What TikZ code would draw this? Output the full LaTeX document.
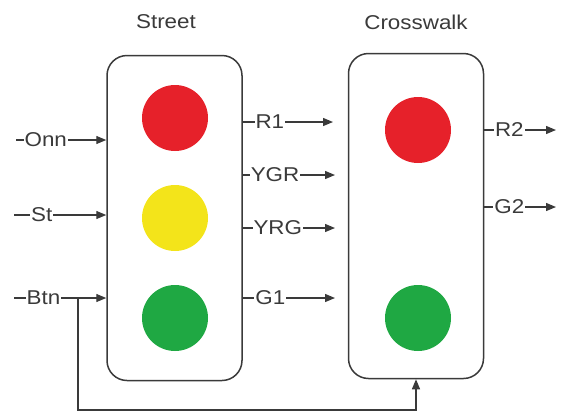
\documentclass[tikz,border=0pt]{standalone}
\usepackage{fontspec}
\setmainfont{Liberation Sans}[FakeStretch=1.12]
\usetikzlibrary{arrows.meta}
\definecolor{lred}{HTML}{E6212A}
\definecolor{lyel}{HTML}{F3E41A}
\definecolor{lgrn}{HTML}{1FA843}
\definecolor{ink}{HTML}{3A3A3A}
\begin{document}
\begin{tikzpicture}[x=1pt,y=-1pt,
  box/.style={draw=ink,line width=1.5pt,rounded corners=20pt,minimum width=135pt,minimum height=325pt,inner sep=0},
  lamp/.style={circle,minimum size=66pt,inner sep=0},
  wire/.style={draw=ink,line width=1.3pt,-{Triangle[length=10pt,width=8pt]}},
  lbl/.style={fill=white,inner sep=1pt,text=ink,font=\fontsize{20}{22}\selectfont},
  ttl/.style={text=ink,font=\fontsize{20}{22}\selectfont}]
\useasboundingbox (0,0) rectangle (565,416);
\node[box] (st) at (174.5,218) {};
\node[box] (cw) at (416,216) {};
\node[ttl] (tst) at (166,22) {Street};
\node[ttl] (tcw) at (416,22) {Crosswalk};
\node[lamp,fill=lred] (l1) at (175,118) {};
\node[lamp,fill=lyel] (l2) at (175,218) {};
\node[lamp,fill=lgrn] (l3) at (175,318) {};
\node[lamp,fill=lred] (l4) at (418,130) {};
\node[lamp,fill=lgrn] (l5) at (418,318) {};
% inputs
\coordinate (ionn) at (16,140);
\coordinate (ist) at (14,215);
\coordinate (ibtn) at (14,298);
\draw[wire] (ionn) -- node[lbl,pos=0.33] {Onn} (st.west |- ionn);
\draw[wire] (ist) -- node[lbl,pos=0.3] {St} (st.west |- ist);
\draw[wire] (ibtn) -- node[lbl,pos=0.32] {Btn} (st.west |- ibtn);
\coordinate (bj) at (78,298);
\coordinate (bb) at (78,410);
\draw[wire] (bj) -- (bb) -| (cw.south);
% street outputs
\coordinate (or1) at (333,122);
\coordinate (oygr) at (335,175);
\coordinate (oyrg) at (335,228);
\coordinate (og1) at (335,298);
\draw[wire] (st.east |- or1) -- node[lbl,pos=0.3] {R1} (or1);
\draw[wire] (st.east |- oygr) -- node[lbl,pos=0.35] {YGR} (oygr);
\draw[wire] (st.east |- oyrg) -- node[lbl,pos=0.38] {YRG} (oyrg);
\draw[wire] (st.east |- og1) -- node[lbl,pos=0.3] {G1} (og1);
% crosswalk outputs
\coordinate (or2) at (556,130);
\coordinate (og2) at (556,207);
\draw[wire] (cw.east |- or2) -- node[lbl,pos=0.35] {R2} (or2);
\draw[wire] (cw.east |- og2) -- node[lbl,pos=0.35] {G2} (og2);
\end{tikzpicture}
\end{document}
